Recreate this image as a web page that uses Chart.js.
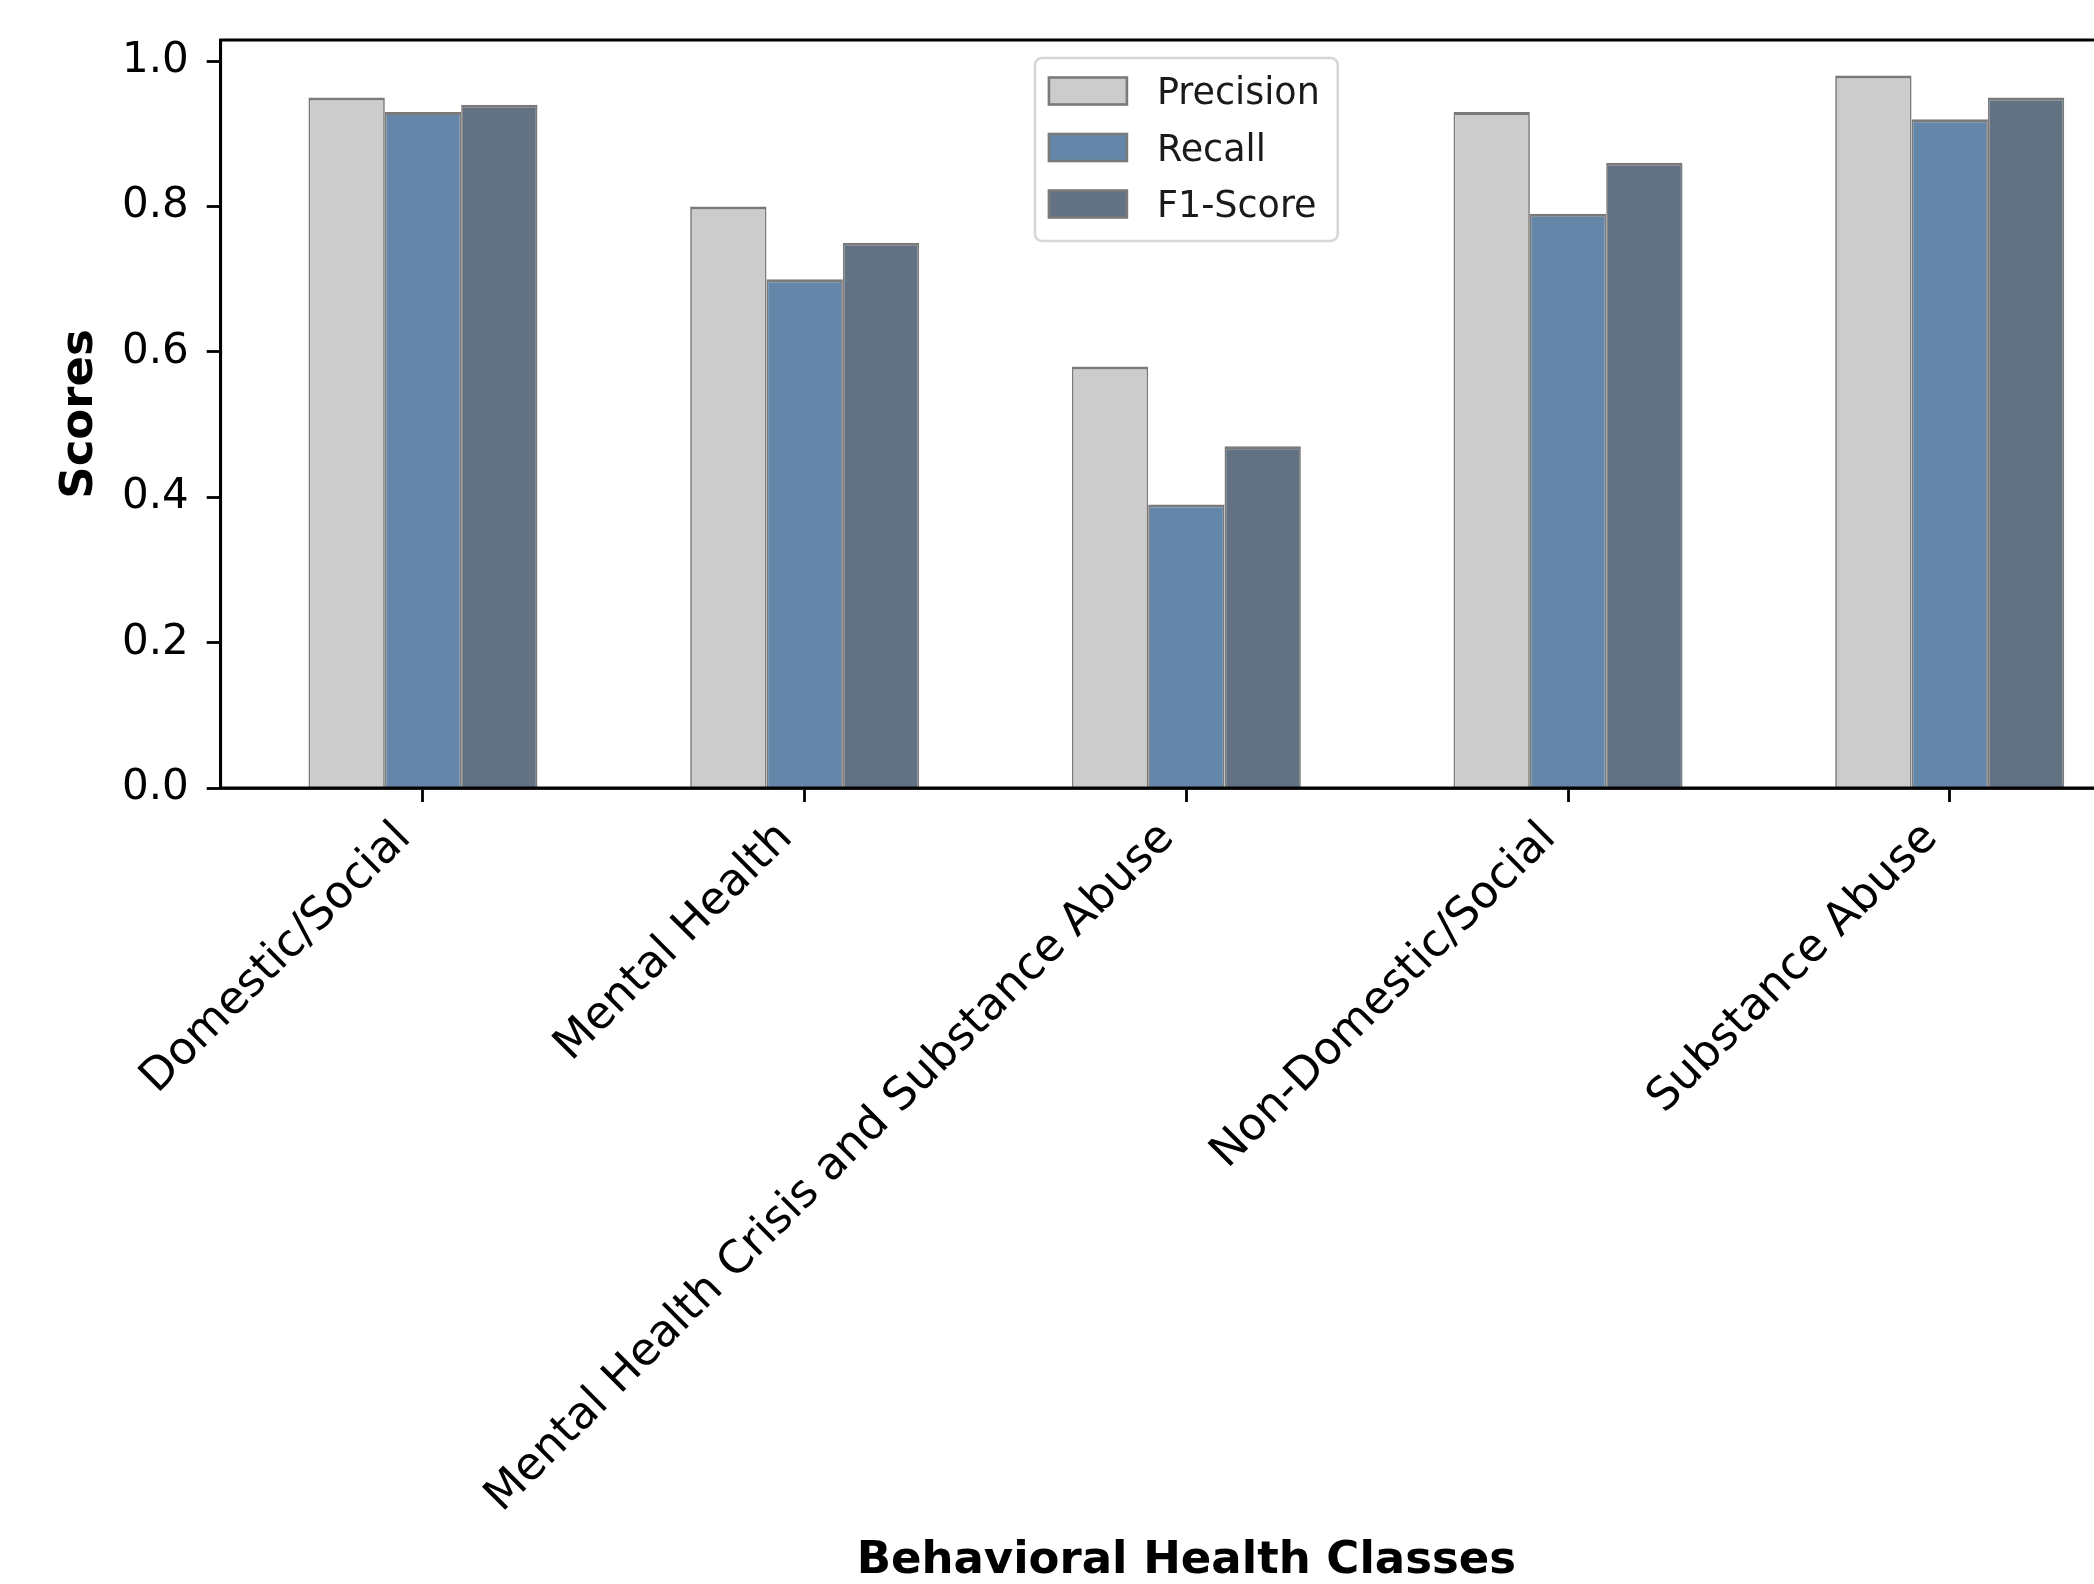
<!DOCTYPE html>
<html>
<head>
<meta charset="utf-8">
<title>Behavioral Health Classes – Precision, Recall, F1-Score</title>
<script src="https://cdn.jsdelivr.net/npm/chart.js@4.4.1/dist/chart.umd.min.js"></script>
<style>
  html, body { margin: 0; padding: 0; background: #ffffff; overflow: hidden; }
  #frame { position: relative; width: 2094px; height: 1584px; overflow: hidden; background: #ffffff; }
  #chart { position: absolute; left: 0; top: 0; }
</style>
</head>
<body>
<div id="frame"><canvas id="chart" width="2200" height="1584"></canvas></div>
<script>
// Class names on the x axis
const categories = [
  'Domestic/Social',
  'Mental Health',
  'Mental Health Crisis and Substance Abuse',
  'Non-Domestic/Social',
  'Substance Abuse'
];

// Per-class scores
const precision = [0.95, 0.80, 0.58, 0.93, 0.98];
const recall    = [0.93, 0.70, 0.39, 0.79, 0.92];
const f1Score   = [0.94, 0.75, 0.47, 0.86, 0.95];

// Y axis tick values
const yTicks = [0.0, 0.2, 0.4, 0.6, 0.8, 1.0];

const FONT = "'DejaVu Sans', 'Liberation Sans', sans-serif";
const EDGE = '#7a7a7a';

const toPoints = arr => arr.map((v, i) => ({ x: i, y: v }));

// Axes frame drawn over the bars (left, bottom, top and right spines)
const framePlugin = {
  id: 'axesFrame',
  afterDatasetsDraw(chart) {
    const { ctx, chartArea: a } = chart;
    ctx.save();
    ctx.strokeStyle = '#000000';
    ctx.lineWidth = 2.8;
    ctx.lineCap = 'square';
    ctx.beginPath();
    ctx.rect(a.left, a.top, a.right - a.left, a.bottom - a.top);
    ctx.stroke();
    ctx.restore();
  }
};

// Boxed legend placed at the upper centre of the plot area
const boxLegendPlugin = {
  id: 'boxLegend',
  afterDraw(chart) {
    const { ctx, chartArea: a } = chart;
    const sets = chart.data.datasets;
    const fontSize = 36.5;
    const padL = 14, padR = 18, handleW = 78, handleH = 27, gap = 30;
    const firstRow = 33, rowStep = 56.5, lastPad = 37;
    ctx.save();
    ctx.font = fontSize + 'px ' + FONT;
    const textW = Math.max(...sets.map(d => ctx.measureText(d.label).width));
    const w = padL + handleW + gap + textW + padR;
    const h = firstRow + rowStep * (sets.length - 1) + lastPad;
    const cx = (a.left + a.right) / 2;
    const x0 = cx - w / 2;
    const y0 = a.top + 18;

    ctx.beginPath();
    ctx.roundRect(x0, y0, w, h, 7);
    ctx.fillStyle = 'rgba(255,255,255,0.8)';
    ctx.fill();
    ctx.lineWidth = 2.6;
    ctx.strokeStyle = '#d6d6d6';
    ctx.stroke();

    sets.forEach((d, i) => {
      const cy = y0 + firstRow + rowStep * i;
      ctx.fillStyle = d.backgroundColor;
      ctx.fillRect(x0 + padL, cy - handleH / 2, handleW, handleH);
      ctx.lineWidth = 2.6;
      ctx.strokeStyle = d.borderColor;
      ctx.strokeRect(x0 + padL, cy - handleH / 2, handleW, handleH);
      ctx.fillStyle = '#1a1a1a';
      ctx.textAlign = 'left';
      ctx.textBaseline = 'alphabetic';
      ctx.fillText(d.label, x0 + padL + handleW + gap, cy + fontSize * 0.365);
    });
    ctx.restore();
  }
};

const barBorder = { top: 3, left: 1.7, right: 1.7, bottom: 0 };

new Chart(document.getElementById('chart'), {
  type: 'bar',
  data: {
    datasets: [
      { label: 'Precision', data: toPoints(precision), backgroundColor: '#cccccc', borderColor: EDGE, borderWidth: barBorder },
      { label: 'Recall',    data: toPoints(recall),    backgroundColor: '#6386a9', borderColor: EDGE, borderWidth: barBorder },
      { label: 'F1-Score',  data: toPoints(f1Score),   backgroundColor: '#627282', borderColor: EDGE, borderWidth: barBorder }
    ]
  },
  options: {
    responsive: false,
    animation: false,
    devicePixelRatio: 1,
    layout: { padding: { left: 0, top: 40, right: 48, bottom: 0 } },
    datasets: { bar: { categoryPercentage: 0.6, barPercentage: 1.0, borderSkipped: false } },
    plugins: {
      legend: { display: false },
      tooltip: { enabled: false }
    },
    scales: {
      x: {
        type: 'linear',
        offset: false,
        min: -0.53,
        max: 4.53,
        afterBuildTicks(scale) {
          scale.ticks = categories.map((_, i) => ({ value: i }));
        },
        afterFit(scale) {
          scale.height = 796;
          scale.paddingLeft = 0;
          scale.paddingRight = 0;
        },
        ticks: {
          autoSkip: false,
          minRotation: 45,
          maxRotation: 45,
          labelOffset: -19,
          padding: 10,
          color: '#000000',
          font: { family: FONT, size: 45 },
          callback: v => categories[v]
        },
        grid: { offset: false, drawOnChartArea: false, drawTicks: true, tickLength: 14, tickWidth: 2.8, tickColor: '#000000' },
        border: { display: true, color: '#000000', width: 2.8 },
        title: {
          display: true,
          text: 'Behavioral Health Classes',
          color: '#000000',
          font: { family: FONT, size: 45, weight: 'bold', lineHeight: 1.0 },
          padding: { top: 0, bottom: 0 }
        }
      },
      y: {
        min: 0,
        max: 1.029,
        afterBuildTicks(scale) {
          scale.ticks = yTicks.map(v => ({ value: v }));
        },
        afterFit(scale) {
          scale.width = 220.7;
          scale.paddingTop = 0;
          scale.paddingBottom = 0;
        },
        ticks: {
          padding: 18,
          color: '#000000',
          font: { family: FONT, size: 42 },
          callback: v => Number(v).toFixed(1)
        },
        grid: { drawOnChartArea: false, drawTicks: true, tickLength: 14, tickWidth: 2.8, tickColor: '#000000' },
        border: { display: true, color: '#000000', width: 2.8 },
        title: {
          display: true,
          text: 'Scores',
          color: '#000000',
          font: { family: FONT, size: 45, weight: 'bold', lineHeight: 1.2 },
          padding: { top: 53, bottom: 0 }
        }
      }
    }
  },
  plugins: [framePlugin, boxLegendPlugin]
});
</script>
</body>
</html>
